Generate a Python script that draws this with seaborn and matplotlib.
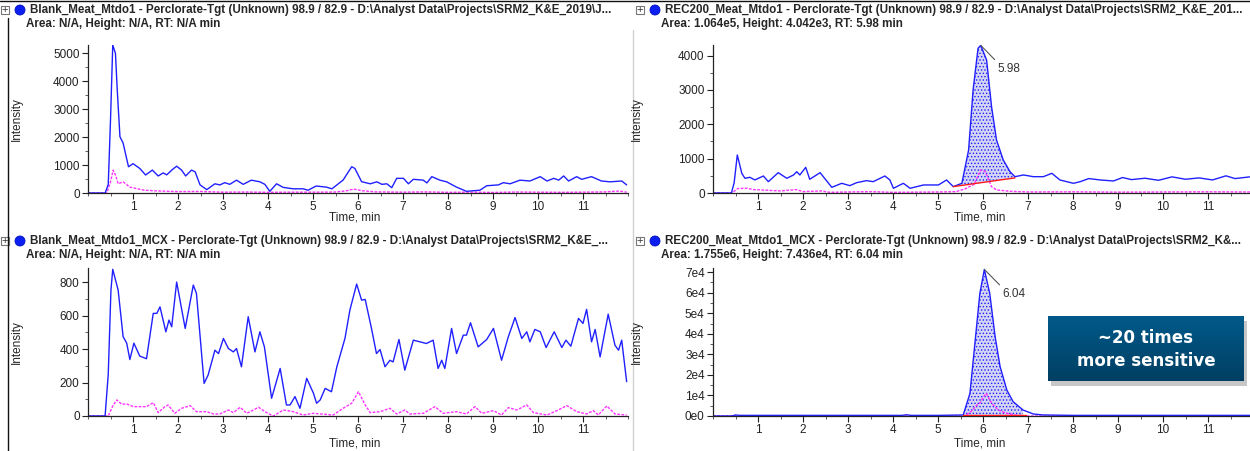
import numpy as np
import pandas as pd
import matplotlib
matplotlib.use('Agg')
import matplotlib.pyplot as plt
import seaborn as sns
from matplotlib import font_manager
from matplotlib.patches import Rectangle, Ellipse
from matplotlib.lines import Line2D
from matplotlib.ticker import MultipleLocator, FuncFormatter
from matplotlib.colors import LinearSegmentedColormap

# ---- data (time in min, intensity in cps) ----
# top left: Blank_Meat_Mtdo1
tl_blue_t = [0.0, 0.38, 0.45, 0.50, 0.55, 0.61, 0.65, 0.71, 0.78, 0.90,
             1.00, 1.15, 1.28, 1.43, 1.56, 1.67, 1.75, 1.86, 1.97, 2.08,
             2.17, 2.30, 2.38, 2.49, 2.64, 2.82, 2.93, 3.04, 3.15, 3.30,
             3.45, 3.63, 3.82, 3.93, 4.04, 4.19, 4.34, 4.56, 4.78, 4.89,
             5.07, 5.30, 5.42, 5.67, 5.86, 5.93, 6.08, 6.27, 6.42, 6.53,
             6.64, 6.75, 6.86, 7.01, 7.12, 7.23, 7.45, 7.53, 7.64, 7.82,
             7.97, 8.19, 8.41, 8.71, 8.86, 9.12, 9.23, 9.38, 9.60, 9.82,
             10.05, 10.20, 10.35, 10.46, 10.57, 10.68, 10.86, 10.97, 11.19, 11.41,
             11.60, 11.86, 11.97]
tl_blue_v = [0, 0, 300, 2600, 5300, 5000, 3690, 2015, 1790, 940,
             1050, 880, 645, 820, 610, 720, 650, 820, 960, 820,
             610, 820, 760, 290, 120, 330, 290, 370, 310, 460,
             310, 460, 400, 310, 60, 330, 200, 150, 150, 100,
             250, 210, 150, 465, 940, 880, 405, 330, 400, 310,
             330, 190, 525, 525, 330, 490, 460, 360, 585, 460,
             400, 210, 60, 100, 260, 290, 370, 330, 460, 430,
             585, 430, 525, 460, 610, 430, 585, 490, 585, 430,
             400, 430, 290]
tl_mag_t = [0.0, 0.42, 0.50, 0.56, 0.62, 0.67, 0.78, 0.93, 1.10, 1.25,
            1.60, 2.00, 2.50, 3.00, 3.50, 4.00, 4.50, 5.00, 5.50, 5.75,
            5.90, 6.10, 6.40, 7.00, 7.50, 8.00, 8.50, 9.00, 9.50, 10.00,
            10.50, 11.00, 11.50, 11.80, 11.97]
tl_mag_v = [0, 0, 400, 820, 600, 330, 400, 210, 150, 100,
            70, 50, 55, 30, 35, 25, 30, 30, 35, 80,
            140, 80, 40, 30, 40, 25, 30, 20, 35, 30,
            25, 30, 40, 70, 30]

# bottom left: Blank_Meat_Mtdo1_MCX
bl_blue_t = [0.0, 0.38, 0.45, 0.51, 0.55, 0.67, 0.78, 0.86, 0.93, 1.02,
             1.15, 1.30, 1.45, 1.53, 1.60, 1.73, 1.80, 1.86, 1.97, 2.16,
             2.34, 2.41, 2.58, 2.67, 2.82, 2.90, 3.01, 3.12, 3.23, 3.30,
             3.41, 3.56, 3.71, 3.82, 3.92, 4.08, 4.27, 4.41, 4.49, 4.60,
             4.71, 4.86, 5.01, 5.08, 5.16, 5.27, 5.41, 5.53, 5.71, 5.82,
             5.97, 6.08, 6.16, 6.30, 6.41, 6.49, 6.60, 6.71, 6.78, 6.91,
             7.04, 7.23, 7.52, 7.67, 7.78, 7.86, 7.93, 8.08, 8.19, 8.34,
             8.41, 8.50, 8.67, 8.86, 9.01, 9.19, 9.34, 9.49, 9.64, 9.75,
             9.82, 9.93, 10.05, 10.18, 10.36, 10.53, 10.62, 10.73, 10.90, 11.00,
             11.08, 11.19, 11.27, 11.38, 11.56, 11.71, 11.79, 11.86, 11.97]
bl_blue_v = [0, 0, 250, 752, 876, 752, 474, 435, 337, 435,
             358, 342, 613, 613, 652, 503, 573, 533, 800, 523,
             782, 732, 195, 245, 393, 373, 463, 403, 383, 403,
             294, 593, 383, 503, 413, 106, 284, 66, 66, 116,
             46, 225, 136, 76, 96, 165, 145, 294, 463, 633,
             788, 692, 696, 523, 373, 397, 294, 333, 323, 457,
             274, 453, 433, 453, 284, 333, 284, 523, 373, 483,
             483, 557, 413, 457, 523, 333, 473, 588, 463, 503,
             443, 517, 503, 409, 503, 409, 453, 417, 583, 553,
             637, 443, 517, 353, 608, 423, 393, 453, 205]
bl_mag_t = [0.0, 0.45, 0.55, 0.64, 0.75, 0.86, 1.01, 1.30, 1.45, 1.56,
            1.71, 1.78, 1.93, 2.08, 2.27, 2.41, 2.64, 2.79, 2.93, 3.12,
            3.23, 3.38, 3.53, 3.79, 3.97, 4.12, 4.34, 4.56, 4.78, 5.00,
            5.45, 5.67, 5.86, 6.01, 6.16, 6.27, 6.49, 6.71, 6.86, 7.04,
            7.15, 7.45, 7.71, 7.89, 8.19, 8.41, 8.60, 8.75, 9.01, 9.19,
            9.34, 9.53, 9.75, 9.90, 10.20, 10.42, 10.64, 10.86, 11.08, 11.23,
            11.34, 11.53, 11.71, 11.97]
bl_mag_v = [0, 0, 60, 96, 70, 72, 56, 56, 80, 20,
            56, 66, 16, 46, 62, 26, 26, 12, 12, 36,
            20, 52, 16, 52, 20, 0, 36, 26, 6, 16,
            6, 46, 76, 145, 66, 20, 26, 46, 12, 36,
            12, 16, 56, 16, 26, 12, 56, 16, 32, 6,
            50, 36, 66, 20, 6, 32, 62, 26, 12, 32,
            6, 60, 12, 6]

# top right: REC200_Meat_Mtdo1
tr_blue_t = [0.0, 0.41, 0.47, 0.54, 0.64, 0.71, 0.82, 0.93, 1.12, 1.23,
             1.45, 1.64, 1.79, 1.86, 1.93, 2.06, 2.15, 2.38, 2.64, 2.86,
             3.04, 3.19, 3.41, 3.56, 3.82, 3.93, 4.01, 4.23, 4.38, 4.68,
             5.01, 5.19, 5.34, 5.53, 5.68, 5.78, 5.89, 5.95, 6.08, 6.19,
             6.30, 6.45, 6.60, 6.71, 6.90, 7.12, 7.34, 7.53, 7.71, 8.01,
             8.16, 8.35, 8.60, 8.90, 9.10, 9.30, 9.60, 9.90, 10.20, 10.50,
             10.80, 11.10, 11.40, 11.60, 11.93]
tr_blue_v = [0, 0, 300, 1107, 573, 428, 457, 380, 495, 330,
             592, 428, 525, 620, 525, 748, 400, 592, 165, 282,
             214, 300, 360, 330, 495, 380, 137, 282, 137, 234,
             234, 379, 186, 282, 1253, 3000, 4215, 4300, 3874, 2515,
             1544, 961, 621, 475, 525, 475, 475, 573, 379, 282,
             330, 420, 380, 350, 450, 390, 430, 370, 470, 400,
             440, 380, 500, 420, 470]
tr_mag_t = [0.0, 0.42, 0.55, 0.75, 0.90, 1.20, 1.50, 1.85, 2.00, 2.40,
            2.60, 3.00, 3.50, 4.00, 5.00, 5.40, 5.60, 5.80, 5.95, 6.05,
            6.19, 6.30, 6.60, 7.00, 8.00, 9.00, 10.00, 11.00, 11.93]
tr_mag_v = [0, 0, 130, 140, 100, 80, 60, 100, 40, 60,
            20, 30, 40, 20, 30, 40, 120, 250, 670, 620,
            186, 90, 50, 30, 35, 25, 30, 35, 30]
tr_base_t = [5.34, 6.71]
tr_base_v = [186, 440]

# bottom right: REC200_Meat_Mtdo1_MCX
br_blue_t = [0.0, 0.42, 0.50, 0.60, 1.00, 2.00, 3.00, 4.20, 4.30, 4.40,
             5.00, 5.56, 5.71, 5.82, 5.93, 6.03, 6.15, 6.27, 6.38, 6.53,
             6.67, 6.89, 7.12, 7.34, 8.00, 9.00, 10.00, 11.00, 11.93]
br_blue_v = [0, 0, 500, 300, 300, 300, 300, 300, 600, 300,
             300, 500, 11000, 35300, 59600, 71300, 59600, 38500, 24000, 12600,
             6950, 2900, 970, 500, 300, 300, 300, 300, 300]
br_mag_t = [0.0, 5.60, 5.75, 5.85, 5.93, 6.02, 6.07, 6.19, 6.34, 6.50, 6.70, 7.00, 11.93]
br_mag_v = [0, 0, 2500, 5000, 6300, 9500, 11000, 6300, 2900, 1500, 500, 0, 0]
br_base_t = [5.56, 6.95]
br_base_v = [400, 400]

headers = [
    ('Blank_Meat_Mtdo1 - Perclorate-Tgt (Unknown) 98.9 / 82.9 - D:\\Analyst Data\\Projects\\SRM2_K&E_2019\\J...',
     'Area: N/A, Height: N/A, RT: N/A min'),
    ('REC200_Meat_Mtdo1 - Perclorate-Tgt (Unknown) 98.9 / 82.9 - D:\\Analyst Data\\Projects\\SRM2_K&E_201...',
     'Area: 1.064e5, Height: 4.042e3, RT: 5.98 min'),
    ('Blank_Meat_Mtdo1_MCX - Perclorate-Tgt (Unknown) 98.9 / 82.9 - D:\\Analyst Data\\Projects\\SRM2_K&E_...',
     'Area: N/A, Height: N/A, RT: N/A min'),
    ('REC200_Meat_Mtdo1_MCX - Perclorate-Tgt (Unknown) 98.9 / 82.9 - D:\\Analyst Data\\Projects\\SRM2_K&...',
     'Area: 1.755e6, Height: 7.436e4, RT: 6.04 min'),
]

sns.set_style('ticks')
plt.rcParams['font.family'] = ['Liberation Sans', 'DejaVu Sans']
plt.rcParams['hatch.linewidth'] = 0.6

# narrow face for the header rows if one is installed
installed = {f.name for f in font_manager.fontManager.ttflist}
if 'Liberation Sans Narrow' in installed:
    head_font, head_size = ['Liberation Sans Narrow', 'DejaVu Sans'], 9.5
elif 'DejaVu Sans Condensed' in installed:
    head_font, head_size = ['DejaVu Sans Condensed', 'DejaVu Sans'], 8.3
else:
    head_font, head_size = ['Liberation Sans', 'DejaVu Sans'], 8.4

W, H = 1250, 451
fig = plt.figure(figsize=(12.5, 4.51), dpi=100)


def fx(x):
    return x / W


def fy(y):
    return 1 - y / H


BLUE = '#2020ff'
MAG = '#ff33ff'


def panel(rect, xmax, blue_t, blue_v, mag_t, mag_v, ymax, ystep, yminor, fmt=None):
    ax = fig.add_axes(rect)
    sns.lineplot(x=mag_t, y=mag_v, ax=ax, color=MAG, lw=1.0, linestyle=(0, (2, 1)),
                 estimator=None, sort=False)
    sns.lineplot(x=blue_t, y=blue_v, ax=ax, color=BLUE, lw=1.0, estimator=None, sort=False)
    ax.set_xlim(0, xmax)
    ax.set_ylim(0, ymax)
    ax.set_xticks(range(1, 12))
    ax.xaxis.set_minor_locator(MultipleLocator(0.5))
    ax.yaxis.set_major_locator(MultipleLocator(ystep))
    ax.yaxis.set_minor_locator(MultipleLocator(yminor))
    if fmt:
        ax.yaxis.set_major_formatter(FuncFormatter(fmt))
    ax.tick_params(which='major', length=4, width=0.8, labelsize=8.5, colors='#222222', pad=2)
    ax.tick_params(which='minor', length=2, width=0.6, colors='#444444')
    ax.set_xlabel('')
    ax.set_ylabel('')
    for s in ['top', 'right']:
        ax.spines[s].set_visible(False)
    for s in ['left', 'bottom']:
        ax.spines[s].set_color('#222222')
        ax.spines[s].set_linewidth(0.9)
    return ax


ax_h = 148 / H
left_l, left_w = fx(88), 540 / W
right_l, right_w = fx(713), 537 / W
top_b, bot_b = fy(193), fy(416)

ax_tl = panel([left_l, top_b, left_w, ax_h], 12, tl_blue_t, tl_blue_v, tl_mag_t, tl_mag_v,
              5300, 1000, 500)
ax_bl = panel([left_l, bot_b, left_w, ax_h], 12, bl_blue_t, bl_blue_v, bl_mag_t, bl_mag_v,
              884, 200, 100)
ax_tr = panel([right_l, top_b, right_w, ax_h], 537 / 45, tr_blue_t, tr_blue_v, tr_mag_t, tr_mag_v,
              4310, 1000, 500)
ax_br = panel([right_l, bot_b, right_w, ax_h], 537 / 45, br_blue_t, br_blue_v, br_mag_t, br_mag_v,
              72000, 10000, 5000, fmt=lambda v, p: f'{int(round(v / 1e4))}e4' if v > 0 else '0e0')


def integrate(ax, blue_t, blue_v, base_t, base_v, rt, apex, tip, label):
    bt = np.array(blue_t)
    bv = np.array(blue_v)
    sel = (bt >= base_t[0]) & (bt <= base_t[1])
    base = np.interp(bt[sel], base_t, base_v)
    ax.fill_between(bt[sel], base, bv[sel], facecolor='#d4d4f4', hatch='.....',
                    edgecolor=BLUE, linewidth=0, zorder=1)
    ax.plot(base_t, base_v, color='#ff1a1a', lw=1.0, zorder=3)
    ax.annotate(label, xy=(rt, apex), xytext=tip, ha='left', va='top', fontsize=8.5,
                color='#333333',
                arrowprops=dict(arrowstyle='-', color='#555555', lw=0.8,
                                shrinkA=0, shrinkB=0, relpos=(0, 1)))


integrate(ax_tr, tr_blue_t, tr_blue_v, tr_base_t, tr_base_v, 5.95, 4300, (6.33, 3790), '5.98')
integrate(ax_br, br_blue_t, br_blue_v, br_base_t, br_base_v, 6.03, 71300, (6.44, 62200), '6.04')

# axis titles
for xc, xi in [(355, 17), (980, 637)]:
    for ymid, ytitle in [(119, 218), (342, 444)]:
        fig.text(fx(xi), fy(ymid), 'Intensity', rotation=90, ha='center', va='center', fontsize=8.5)
        fig.text(fx(xc), fy(ytitle), 'Time, min', ha='center', va='center', fontsize=8.5)

# header rows
for (l1, l2), (x0, y0) in zip(headers, [(5, 10), (640, 10), (5, 241), (640, 241)]):
    fig.add_artist(Rectangle((fx(x0 - 4), fy(y0 + 4)), 8 / W, 8 / H, transform=fig.transFigure,
                             facecolor='white', edgecolor='#777777', lw=0.8))
    fig.text(fx(x0), fy(y0), '+', ha='center', va='center', fontsize=8, color='#333333')
    fig.add_artist(Ellipse((fx(x0 + 15), fy(y0)), 10 / W, 10 / H, transform=fig.transFigure,
                           facecolor='#0a1ff0', edgecolor='#0010c0', lw=0.6))
    fig.text(fx(x0 + 25), fy(y0), l1, ha='left', va='center', fontsize=head_size,
             fontweight='bold', family=head_font)
    fig.text(fx(x0 + 21), fy(y0 + 14), l2, ha='left', va='center', fontsize=head_size,
             fontweight='bold', family=head_font)

# frame lines
fig.add_artist(Line2D([0, 1], [fy(1), fy(1)], transform=fig.transFigure, color='#111111', lw=1.0))
fig.add_artist(Line2D([fx(8), fx(8)], [fy(18), 0], transform=fig.transFigure, color='#111111', lw=1.0))
fig.add_artist(Line2D([fx(633), fx(633)], [fy(30), 0], transform=fig.transFigure, color='#d0d0d0', lw=1.0))

# callout box with a soft shadow
bx, by, bw, bh = 1048, 381, 196, 65
shadow = Rectangle((fx(bx + 3), fy(by + 5)), bw / W, bh / H, transform=fig.transFigure,
                   facecolor='#9a9a9a', edgecolor='none', alpha=0.55, zorder=4)
fig.add_artist(shadow)
ax_box = fig.add_axes([fx(bx), fy(by), bw / W, bh / H])
ax_box.set_zorder(5)
grad = np.linspace(0, 1, 64).reshape(-1, 1)
cmap = LinearSegmentedColormap.from_list('callout', ['#005a8a', '#003f63'])
ax_box.imshow(grad, aspect='auto', cmap=cmap, extent=[0, 1, 0, 1])
ax_box.set_xlim(0, 1)
ax_box.set_ylim(0, 1)
ax_box.axis('off')
ax_box.text(0.5, 0.66, '~20 times', ha='center', va='center', color='white', fontsize=12,
            fontweight='bold', family='DejaVu Sans')
ax_box.text(0.5, 0.31, 'more sensitive', ha='center', va='center', color='white', fontsize=12,
            fontweight='bold', family='DejaVu Sans')

fig.savefig('out.png', dpi=100)
